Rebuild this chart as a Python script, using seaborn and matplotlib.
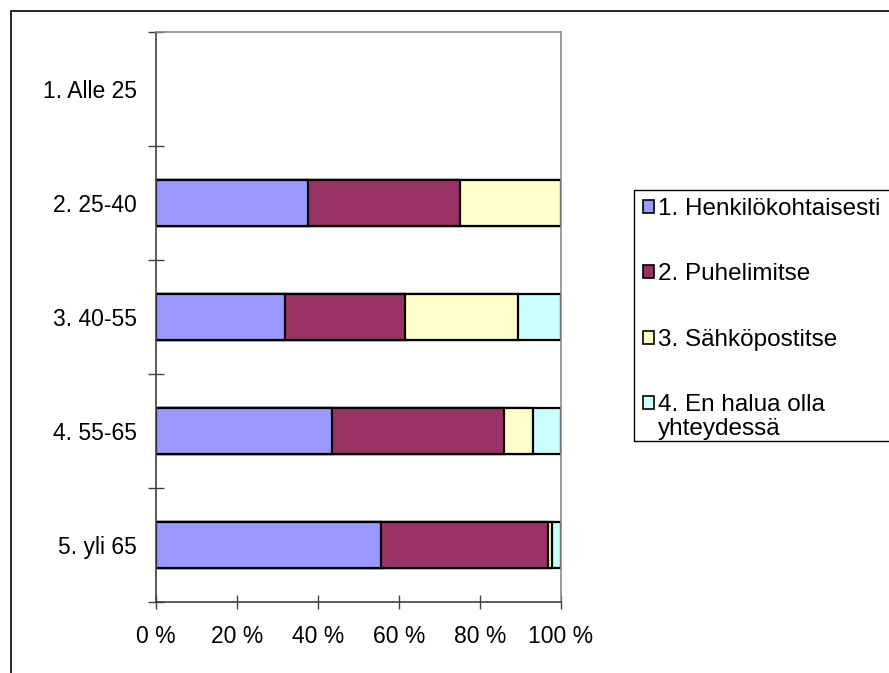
import numpy as np
import pandas as pd
import matplotlib
matplotlib.use("Agg")
import matplotlib.pyplot as plt
from matplotlib.patches import Patch, Rectangle
from matplotlib.ticker import FixedLocator
import seaborn as sns

# data (percent of answers per age group)
age_groups = ["1. Alle 25", "2. 25-40", "3. 40-55", "4. 55-65", "5. yli 65"]
shown_groups = ["2. 25-40", "3. 40-55", "4. 55-65", "5. yli 65"]
henkilokohtaisesti = [37.5, 31.9, 43.5, 55.5]
puhelimitse = [37.5, 29.7, 42.4, 41.2]
sahkopostitse = [25.0, 27.9, 7.1, 1.0]
ei_halua = [0.0, 10.5, 7.0, 2.3]

series_names = ["1. Henkilökohtaisesti", "2. Puhelimitse", "3. Sähköpostitse",
                "4. En halua olla"]
last_label_tail = "yhteydessä"
colors = ["#9999FF", "#993366", "#FFFFCC", "#CCFFFF"]
x_ticks = [0, 20, 40, 60, 80, 100]
x_ticklabels = ["0 %", "20 %", "40 %", "60 %", "80 %", "100 %"]

sns.set_style("white")
plt.rcParams["font.family"] = ["Liberation Sans", "DejaVu Sans"]
plt.rcParams["font.size"] = 16.5
plt.rcParams["text.color"] = "black"

df = pd.DataFrame({
    "group": shown_groups,
    "s1": henkilokohtaisesti,
    "s2": puhelimitse,
    "s3": sahkopostitse,
    "s4": ei_halua,
})
cols = ["s1", "s2", "s3", "s4"]
cum = df[cols].cumsum(axis=1)

W, H = 889, 673
fig = plt.figure(figsize=(W / 100, H / 100), dpi=100)
ax = fig.add_axes([156 / W, 1 - 602 / H, 405 / W, 570 / H])

# stacked bars: draw cumulative totals from the widest down
for col, color in reversed(list(zip(cols, colors))):
    plot_df = pd.DataFrame({"group": df["group"], "value": cum[col]})
    sns.barplot(data=plot_df, x="value", y="group", order=age_groups,
                color=color, saturation=1, width=0.4, edgecolor="black",
                linewidth=1.6, ax=ax, errorbar=None)

ax.set_xlim(0, 100)
ax.set_ylim(4.5, -0.5)
ax.set_xlabel("")
ax.set_ylabel("")
ax.set_xticks(x_ticks)
ax.set_xticklabels(x_ticklabels)
ax.tick_params(axis="x", bottom=True, direction="inout", length=9.5, width=1,
               color="#404040", pad=12, labelsize=16.5, labelcolor="black")
ax.tick_params(axis="y", which="major", left=False, length=0, pad=14,
               labelsize=16.5, labelcolor="black")
ax.yaxis.set_minor_locator(FixedLocator(np.arange(-0.5, 5, 1.0)))
ax.tick_params(axis="y", which="minor", left=True, direction="inout", length=11,
               width=1, color="#404040")

for side in ["left", "bottom"]:
    ax.spines[side].set_color("#404040")
    ax.spines[side].set_linewidth(1.2)
for side in ["top", "right"]:
    ax.spines[side].set_color("#8c8c8c")
    ax.spines[side].set_linewidth(1.2)

handles = [Patch(facecolor=c, edgecolor="black", linewidth=1.2) for c in colors]
leg = fig.legend(handles, series_names, loc="upper left",
                 bbox_to_anchor=(638 / W, 1 - 193 / H),
                 frameon=False, handlelength=0.45, handleheight=0.45,
                 handletextpad=0.17, labelspacing=1.79, borderpad=0.2,
                 borderaxespad=0, fontsize=17.5)

# second line of the last legend label, placed under the first
fig.canvas.draw()
bb = leg.get_texts()[3].get_window_extent()
fig.text(bb.x0 / W, (bb.y0 - 24) / H, last_label_tail, fontsize=17.5,
         ha="left", va="bottom")

# legend frame and outer chart border
fig.patches.append(Rectangle((634 / W, 1 - 441 / H), 0.5, 251 / H,
                             transform=fig.transFigure, fill=False,
                             edgecolor="black", linewidth=1.0))
fig.patches.append(Rectangle((11 / W, -0.5), 2.0, 1.5 - 11 / H,
                             transform=fig.transFigure, fill=False,
                             edgecolor="black", linewidth=1.2))

fig.savefig("out.png", dpi=100)
